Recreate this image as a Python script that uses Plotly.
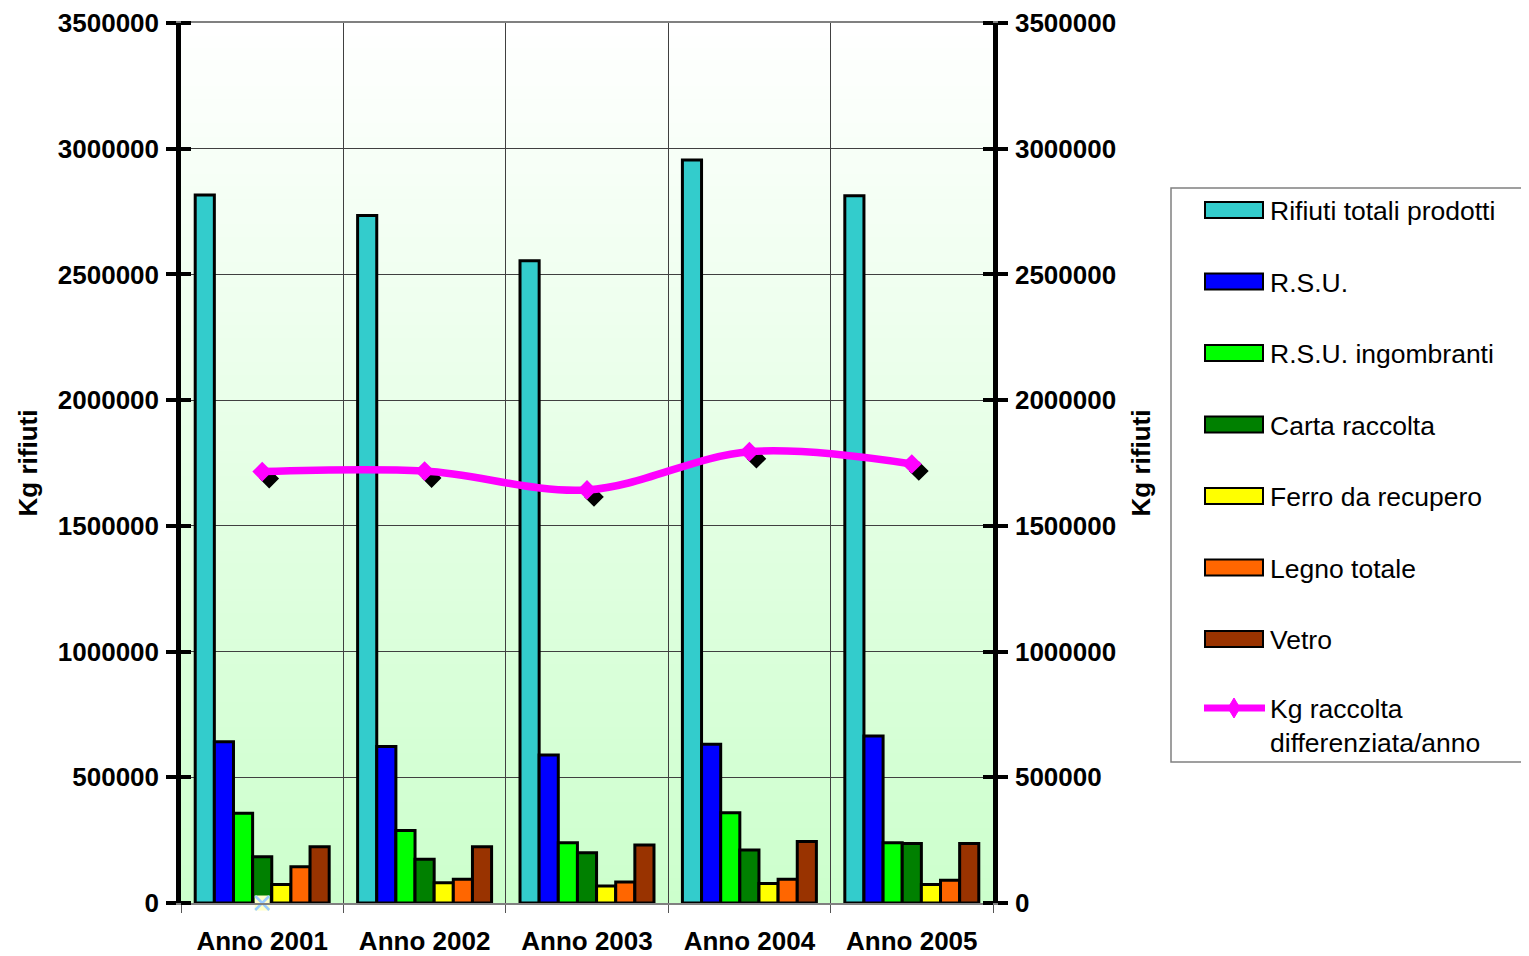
import plotly.graph_objects as go

# ---------------- data ----------------
years = ["Anno 2001", "Anno 2002", "Anno 2003", "Anno 2004", "Anno 2005"]

rifiuti_totali = [2816000, 2734000, 2554000, 2955000, 2813000]
rsu = [641000, 622000, 589000, 631000, 664000]
rsu_ingombranti = [357000, 288000, 240000, 359000, 240000]
carta_raccolta = [184000, 174000, 200000, 211000, 237000]
ferro_recupero = [74000, 81000, 68000, 78000, 74000]
legno_totale = [144000, 94000, 84000, 94000, 90000]
vetro = [224000, 224000, 231000, 245000, 237000]
raccolta_differenziata = [1716000, 1718000, 1643000, 1795000, 1746000]
stray_marker = [0, None, None, None, None]

bar_names = ["Rifiuti totali prodotti", "R.S.U.", "R.S.U. ingombranti",
             "Carta raccolta", "Ferro da recupero", "Legno totale", "Vetro"]
bar_series = [rifiuti_totali, rsu, rsu_ingombranti, carta_raccolta,
              ferro_recupero, legno_totale, vetro]
bar_colors = ["#33CCCC", "#0000FF", "#00FF00", "#008000",
              "#FFFF00", "#FF6600", "#993300"]
line_name = "Kg raccolta<br>differenziata/anno"
line_color = "#FF00FF"

y_ticks = [0, 500000, 1000000, 1500000, 2000000, 2500000, 3000000, 3500000]
y_range = [0, 3500000]

# ---------------- geometry helpers ----------------
W, H = 1529, 956
OFF = 8  # page body margin of the viewer
def px(x):
    return (x - OFF) / W
def py(y):
    return 1 - (y - OFF) / H

X0, X1 = px(181), px(993)
Y0, Y1 = py(903), py(23)
SDX, SDY = 7, 7  # shadow offset in px

FONT = "Liberation Sans, Arial, sans-serif"
bold = dict(family=FONT, size=26, color="black", weight="bold")

fig = go.Figure()

for name, vals, color in zip(bar_names, bar_series, bar_colors):
    fig.add_trace(go.Bar(
        x=years, y=vals, name=name,
        marker=dict(color=color, line=dict(color="black", width=3)),
        xaxis="x", yaxis="y", showlegend=False,
    ))

# stray marker near the base of 2001 (on the secondary axis, same scale)
fig.add_trace(go.Scatter(
    x=years, y=stray_marker, mode="markers", showlegend=False, cliponaxis=False,
    marker=dict(symbol="square", size=15, color="#FFFFC8", line=dict(width=0)),
    xaxis="x", yaxis="y2", hoverinfo="skip",
))
fig.add_trace(go.Scatter(
    x=years, y=stray_marker, mode="markers", showlegend=False, cliponaxis=False,
    marker=dict(symbol="x-thin", size=14, color="#99CCFF",
                line=dict(color="#99CCFF", width=2.5)),
    xaxis="x", yaxis="y2", hoverinfo="skip",
))

# marker shadow (shifted subplot)
fig.add_trace(go.Scatter(
    x=years, y=raccolta_differenziata, mode="markers", showlegend=False,
    marker=dict(symbol="diamond", size=13, color="black",
                line=dict(color="black", width=2)),
    xaxis="x2", yaxis="y3", hoverinfo="skip",
))

# magenta line
fig.add_trace(go.Scatter(
    x=years, y=raccolta_differenziata, mode="lines+markers",
    name=line_name.replace("<br>", " "), showlegend=False,
    line=dict(color=line_color, width=7.5, shape="spline", smoothing=1),
    marker=dict(symbol="diamond", size=13, color=line_color,
                line=dict(color=line_color, width=2)),
    xaxis="x3", yaxis="y4",
))

# ---------------- background gradient ----------------
shapes = []
N = 70
top_c = (255, 255, 255)
bot_c = (204, 255, 204)
for i in range(N):
    t = (i + 0.5) / N
    c = tuple(round(b + (tp - b) * t) for b, tp in zip(bot_c, top_c))
    shapes.append(dict(
        type="rect", xref="x domain", yref="y domain",
        x0=0, x1=1, y0=i / N, y1=min(1, (i + 1) / N + 0.003),
        fillcolor="rgb(%d,%d,%d)" % c, line=dict(width=0), layer="below",
    ))

# ---------------- custom legend ----------------
annotations = []
shapes.append(dict(type="rect", xref="paper", yref="paper",
                   x0=px(1171), x1=px(1560), y0=py(762), y1=py(188),
                   fillcolor="white", line=dict(color="#808080", width=1.5),
                   layer="above"))
leg_font = dict(family=FONT, size=26.5, color="black")
for i, (name, color) in enumerate(zip(bar_names, bar_colors)):
    cy = 210 + i * 71.5
    shapes.append(dict(type="rect", xref="paper", yref="paper",
                       x0=px(1205), x1=px(1263), y0=py(cy + 8), y1=py(cy - 8),
                       fillcolor=color, line=dict(color="black", width=2),
                       layer="above"))
    annotations.append(dict(text=name, xref="paper", yref="paper",
                            x=px(1268), y=py(cy + 1), xanchor="left", yanchor="middle",
                            showarrow=False, font=leg_font))
cy = 708
shapes.append(dict(type="line", xref="paper", yref="paper",
                   x0=px(1204), x1=px(1265), y0=py(cy), y1=py(cy),
                   line=dict(color=line_color, width=7), layer="above"))
dpath = "M %f %f L %f %f L %f %f L %f %f Z" % (
    px(1234), py(cy - 10), px(1240), py(cy), px(1234), py(cy + 10), px(1228), py(cy))
shapes.append(dict(type="path", xref="paper", yref="paper", path=dpath,
                   fillcolor=line_color, line=dict(color=line_color, width=1),
                   layer="above"))
annotations.append(dict(text=line_name, xref="paper", yref="paper",
                        x=px(1268), y=py(726), xanchor="left", yanchor="middle",
                        align="left", showarrow=False, font=leg_font))

# ---------------- axes ----------------
cat_axis = dict(type="category", categoryorder="array", categoryarray=years,
                range=[-0.5, 4.5], automargin=False)
hidden_x = dict(cat_axis, visible=False, fixedrange=True)
hidden_y = dict(range=y_range, visible=False, fixedrange=True, automargin=False)

yaxis_common = dict(
    range=y_range, tickvals=y_ticks, tickformat="d",
    ticks="outside", ticklen=10, tickwidth=4, tickcolor="black",
    showline=True, linewidth=4.5, linecolor="black",
    zeroline=False, tickfont=bold, ticklabelstandoff=2, automargin=False,
    minor=dict(tickvals=[v + 1 for v in y_ticks], ticks="inside",
               ticklen=10, tickwidth=4, tickcolor="black", showgrid=False),
)

fig.update_layout(
    width=W, height=H, autosize=False,
    margin=dict(l=0, r=0, t=0, b=0, pad=0, autoexpand=False),
    paper_bgcolor="white", plot_bgcolor="rgba(0,0,0,0)",
    barmode="group", bargap=0.175, bargroupgap=0,
    showlegend=False,
    xaxis=dict(cat_axis, domain=[X0, X1], anchor="y",
               tickson="boundaries", ticks="outside", ticklen=8,
               tickcolor="#555555", tickwidth=1,
               showgrid=True, gridcolor="#404040", gridwidth=1,
               showline=True, linecolor="#808080", linewidth=2, mirror=True,
               tickfont=bold, ticklabelstandoff=14, zeroline=False),
    yaxis=dict(yaxis_common, domain=[Y0, Y1], anchor="x", side="left",
               showgrid=True, gridcolor="#404040", gridwidth=1,
               title=dict(text="Kg rifiuti", font=bold, standoff=14)),
    yaxis2=dict(yaxis_common, overlaying="y", anchor="x", side="right",
                showgrid=False,
                title=dict(text="Kg rifiuti", font=bold, standoff=18)),
    xaxis2=dict(hidden_x, domain=[px(181 + SDX), px(993 + SDX)], anchor="y3"),
    yaxis3=dict(hidden_y, domain=[py(903 + SDY), py(23 + SDY)], anchor="x2"),
    xaxis3=dict(hidden_x, domain=[X0, X1], anchor="y4"),
    yaxis4=dict(hidden_y, domain=[Y0, Y1], anchor="x3"),
    shapes=shapes,
    annotations=annotations,
)

fig.write_html("out.html")
